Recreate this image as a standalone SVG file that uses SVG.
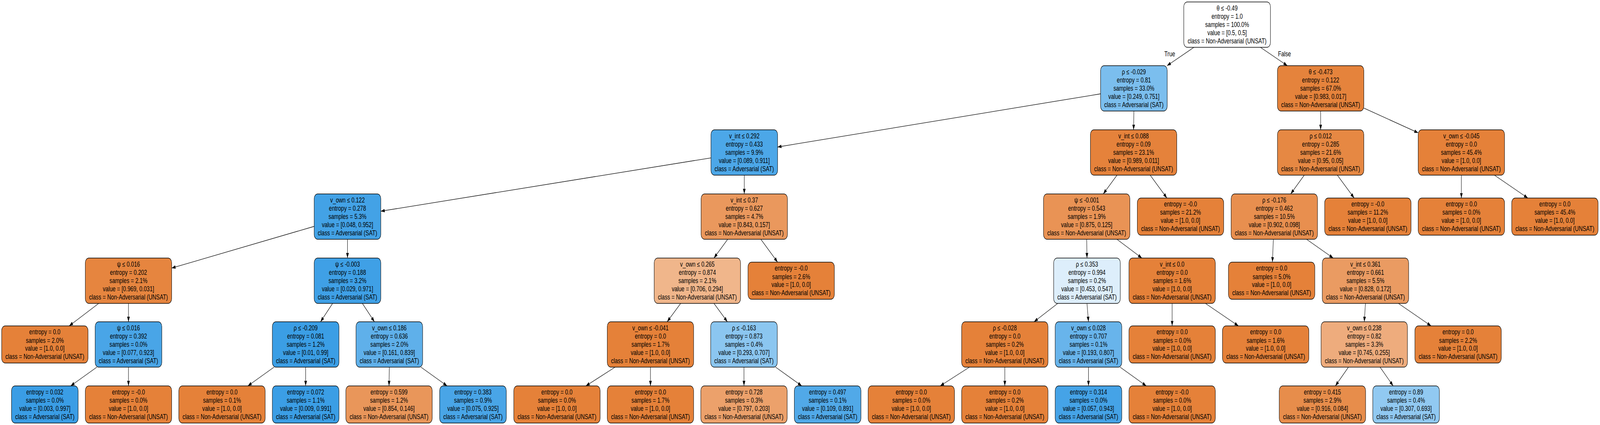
<svg xmlns="http://www.w3.org/2000/svg" width="5355" height="1087" viewBox="0 0 5355 1087" preserveAspectRatio="none" style="width:100%;height:100%">
<style>
.b{stroke:#000;stroke-width:1.3}
.t{font-family:"Liberation Sans",Arial,Helvetica,sans-serif;font-size:17.8px;text-anchor:middle;fill:#000}
#edges line{stroke:#000;stroke-width:1.3;marker-end:url(#ah)}
</style>
<defs>
<marker id="ah" markerUnits="userSpaceOnUse" markerWidth="13" markerHeight="9" refX="13" refY="4.5" orient="auto"><path d="M0,0 L13,4.5 L0,9 z" fill="#000"/></marker>
</defs>
<rect width="5355" height="1087" fill="#fff"/>
<g id="edges">
<line x1="3996" y1="121" x2="3906" y2="168"/>
<line x1="4218.4" y1="121" x2="4308.6" y2="168"/>
<line x1="3683.5" y1="240" x2="2602.5" y2="376"/>
<line x1="3795" y1="284" x2="3794" y2="332"/>
<line x1="4420" y1="284" x2="4420" y2="332"/>
<line x1="4564.5" y1="276.3" x2="4746.5" y2="339.7"/>
<line x1="2379.5" y1="403.8" x2="1274.5" y2="540.2"/>
<line x1="2491" y1="448" x2="2491" y2="496"/>
<line x1="3738.5" y1="448" x2="3692.5" y2="496"/>
<line x1="3849.5" y1="448" x2="3905.5" y2="506.5"/>
<line x1="4365.2" y1="448" x2="4319.8" y2="496"/>
<line x1="4475.9" y1="448" x2="4532.2" y2="506.5"/>
<line x1="4891" y1="448" x2="4891" y2="506.5"/>
<line x1="5001.7" y1="448" x2="5113.4" y2="506.5"/>
<line x1="1051.5" y1="579" x2="574.5" y2="685.7"/>
<line x1="1163" y1="612" x2="1163" y2="660"/>
<line x1="2435.5" y1="612" x2="2389.5" y2="660"/>
<line x1="2546.5" y1="612" x2="2602.5" y2="670.5"/>
<line x1="3637" y1="612" x2="3638" y2="660"/>
<line x1="3738.2" y1="612" x2="3821.8" y2="660"/>
<line x1="4261.8" y1="612" x2="4258.6" y2="670.5"/>
<line x1="4372.9" y1="612" x2="4462.1" y2="660"/>
<line x1="330.4" y1="776" x2="231.6" y2="833.5"/>
<line x1="430" y1="776" x2="430" y2="823"/>
<line x1="1113.2" y1="776" x2="1072.8" y2="823"/>
<line x1="1212.8" y1="776" x2="1253.2" y2="823"/>
<line x1="2278.1" y1="776" x2="2232.9" y2="823"/>
<line x1="2389.5" y1="776" x2="2434.5" y2="823"/>
<line x1="3540.2" y1="776" x2="3460.8" y2="823"/>
<line x1="3638" y1="776" x2="3643" y2="823"/>
<line x1="3923" y1="776" x2="3923" y2="833.5"/>
<line x1="4034.4" y1="776" x2="4144.8" y2="833.5"/>
<line x1="4570" y1="776" x2="4566" y2="823"/>
<line x1="4680.3" y1="776" x2="4789.7" y2="833.5"/>
<line x1="324.2" y1="939" x2="236.6" y2="987"/>
<line x1="430" y1="939" x2="430" y2="987"/>
<line x1="917.2" y1="939" x2="829.6" y2="987"/>
<line x1="1023" y1="939" x2="1023" y2="987"/>
<line x1="1303" y1="939" x2="1302" y2="987"/>
<line x1="1408.8" y1="939" x2="1496.4" y2="987"/>
<line x1="2058.7" y1="939" x2="1960.8" y2="987"/>
<line x1="2177" y1="939" x2="2177" y2="987"/>
<line x1="2490" y1="939" x2="2490" y2="987"/>
<line x1="2595.8" y1="939" x2="2683.4" y2="987"/>
<line x1="3244.7" y1="939" x2="3146.8" y2="987"/>
<line x1="3363" y1="939" x2="3363" y2="987"/>
<line x1="3643" y1="939" x2="3643" y2="987"/>
<line x1="3748.8" y1="939" x2="3836.4" y2="987"/>
<line x1="4513.1" y1="939" x2="4469.3" y2="987"/>
<line x1="4618.9" y1="939" x2="4662.7" y2="987"/>
<text class="t" x="3915" y="144">True</text>
<text class="t" x="4299" y="144">False</text>
</g>
<g id="n0"><rect class="b" x="3962" y="5" width="290" height="116" rx="12" fill="#ffffff"/><text class="t" x="4107" y="27"><tspan x="4107">θ ≤ -0.49</tspan><tspan x="4107" dy="21">entropy = 1.0</tspan><tspan x="4107" dy="21">samples = 100.0%</tspan><tspan x="4107" dy="21">value = [0.5, 0.5]</tspan><tspan x="4107" dy="21">class = Non-Adversarial (UNSAT)</tspan></text></g>
<g id="n1"><rect class="b" x="3683.5" y="168" width="223" height="116" rx="12" fill="#7bbeee"/><text class="t" x="3795" y="190"><tspan x="3795">ρ ≤ -0.029</tspan><tspan x="3795" dy="21">entropy = 0.81</tspan><tspan x="3795" dy="21">samples = 33.0%</tspan><tspan x="3795" dy="21">value = [0.249, 0.751]</tspan><tspan x="3795" dy="21">class = Adversarial (SAT)</tspan></text></g>
<g id="n2"><rect class="b" x="4275.5" y="168" width="289" height="116" rx="12" fill="#e5833c"/><text class="t" x="4420" y="190"><tspan x="4420">θ ≤ -0.473</tspan><tspan x="4420" dy="21">entropy = 0.122</tspan><tspan x="4420" dy="21">samples = 67.0%</tspan><tspan x="4420" dy="21">value = [0.983, 0.017]</tspan><tspan x="4420" dy="21">class = Non-Adversarial (UNSAT)</tspan></text></g>
<g id="n3"><rect class="b" x="2379.5" y="332" width="223" height="116" rx="12" fill="#4ca7e8"/><text class="t" x="2491" y="354"><tspan x="2491">v_int ≤ 0.292</tspan><tspan x="2491" dy="21">entropy = 0.433</tspan><tspan x="2491" dy="21">samples = 9.9%</tspan><tspan x="2491" dy="21">value = [0.089, 0.911]</tspan><tspan x="2491" dy="21">class = Adversarial (SAT)</tspan></text></g>
<g id="n4"><rect class="b" x="3649.5" y="332" width="289" height="116" rx="12" fill="#e5823b"/><text class="t" x="3794" y="354"><tspan x="3794">v_int ≤ 0.088</tspan><tspan x="3794" dy="21">entropy = 0.09</tspan><tspan x="3794" dy="21">samples = 23.1%</tspan><tspan x="3794" dy="21">value = [0.989, 0.011]</tspan><tspan x="3794" dy="21">class = Non-Adversarial (UNSAT)</tspan></text></g>
<g id="n5"><rect class="b" x="4275.5" y="332" width="289" height="116" rx="12" fill="#e68843"/><text class="t" x="4420" y="354"><tspan x="4420">ρ ≤ 0.012</tspan><tspan x="4420" dy="21">entropy = 0.285</tspan><tspan x="4420" dy="21">samples = 21.6%</tspan><tspan x="4420" dy="21">value = [0.95, 0.05]</tspan><tspan x="4420" dy="21">class = Non-Adversarial (UNSAT)</tspan></text></g>
<g id="n6"><rect class="b" x="4746.5" y="332" width="289" height="116" rx="12" fill="#e58139"/><text class="t" x="4891" y="354"><tspan x="4891">v_own ≤ -0.045</tspan><tspan x="4891" dy="21">entropy = 0.0</tspan><tspan x="4891" dy="21">samples = 45.4%</tspan><tspan x="4891" dy="21">value = [1.0, 0.0]</tspan><tspan x="4891" dy="21">class = Non-Adversarial (UNSAT)</tspan></text></g>
<g id="n7"><rect class="b" x="1051.5" y="496" width="223" height="116" rx="12" fill="#43a2e6"/><text class="t" x="1163" y="518"><tspan x="1163">v_own ≤ 0.122</tspan><tspan x="1163" dy="21">entropy = 0.278</tspan><tspan x="1163" dy="21">samples = 5.3%</tspan><tspan x="1163" dy="21">value = [0.048, 0.952]</tspan><tspan x="1163" dy="21">class = Adversarial (SAT)</tspan></text></g>
<g id="n8"><rect class="b" x="2346.5" y="496" width="289" height="116" rx="12" fill="#ea985d"/><text class="t" x="2491" y="518"><tspan x="2491">v_int ≤ 0.37</tspan><tspan x="2491" dy="21">entropy = 0.627</tspan><tspan x="2491" dy="21">samples = 4.7%</tspan><tspan x="2491" dy="21">value = [0.843, 0.157]</tspan><tspan x="2491" dy="21">class = Non-Adversarial (UNSAT)</tspan></text></g>
<g id="n9"><rect class="b" x="3492.5" y="496" width="289" height="116" rx="12" fill="#e99355"/><text class="t" x="3637" y="518"><tspan x="3637">ψ ≤ -0.001</tspan><tspan x="3637" dy="21">entropy = 0.543</tspan><tspan x="3637" dy="21">samples = 1.9%</tspan><tspan x="3637" dy="21">value = [0.875, 0.125]</tspan><tspan x="3637" dy="21">class = Non-Adversarial (UNSAT)</tspan></text></g>
<g id="n10"><rect class="b" x="3806.5" y="506.5" width="289" height="95" rx="12" fill="#e58139"/><text class="t" x="3951" y="528.5"><tspan x="3951">entropy = -0.0</tspan><tspan x="3951" dy="21">samples = 21.2%</tspan><tspan x="3951" dy="21">value = [1.0, 0.0]</tspan><tspan x="3951" dy="21">class = Non-Adversarial (UNSAT)</tspan></text></g>
<g id="n11"><rect class="b" x="4120.5" y="496" width="289" height="116" rx="12" fill="#e88f4f"/><text class="t" x="4265" y="518"><tspan x="4265">ρ ≤ -0.176</tspan><tspan x="4265" dy="21">entropy = 0.462</tspan><tspan x="4265" dy="21">samples = 10.5%</tspan><tspan x="4265" dy="21">value = [0.902, 0.098]</tspan><tspan x="4265" dy="21">class = Non-Adversarial (UNSAT)</tspan></text></g>
<g id="n12"><rect class="b" x="4433.5" y="506.5" width="289" height="95" rx="12" fill="#e58139"/><text class="t" x="4578" y="528.5"><tspan x="4578">entropy = -0.0</tspan><tspan x="4578" dy="21">samples = 11.2%</tspan><tspan x="4578" dy="21">value = [1.0, 0.0]</tspan><tspan x="4578" dy="21">class = Non-Adversarial (UNSAT)</tspan></text></g>
<g id="n13"><rect class="b" x="4746.5" y="506.5" width="289" height="95" rx="12" fill="#e58139"/><text class="t" x="4891" y="528.5"><tspan x="4891">entropy = 0.0</tspan><tspan x="4891" dy="21">samples = 0.0%</tspan><tspan x="4891" dy="21">value = [1.0, 0.0]</tspan><tspan x="4891" dy="21">class = Non-Adversarial (UNSAT)</tspan></text></g>
<g id="n14"><rect class="b" x="5059.5" y="506.5" width="289" height="95" rx="12" fill="#e58139"/><text class="t" x="5204" y="528.5"><tspan x="5204">entropy = 0.0</tspan><tspan x="5204" dy="21">samples = 45.4%</tspan><tspan x="5204" dy="21">value = [1.0, 0.0]</tspan><tspan x="5204" dy="21">class = Non-Adversarial (UNSAT)</tspan></text></g>
<g id="n15"><rect class="b" x="285.5" y="660" width="289" height="116" rx="12" fill="#e6853f"/><text class="t" x="430" y="682"><tspan x="430">ψ ≤ 0.016</tspan><tspan x="430" dy="21">entropy = 0.202</tspan><tspan x="430" dy="21">samples = 2.1%</tspan><tspan x="430" dy="21">value = [0.969, 0.031]</tspan><tspan x="430" dy="21">class = Non-Adversarial (UNSAT)</tspan></text></g>
<g id="n16"><rect class="b" x="1051.5" y="660" width="223" height="116" rx="12" fill="#3fa0e6"/><text class="t" x="1163" y="682"><tspan x="1163">ψ ≤ -0.003</tspan><tspan x="1163" dy="21">entropy = 0.188</tspan><tspan x="1163" dy="21">samples = 3.2%</tspan><tspan x="1163" dy="21">value = [0.029, 0.971]</tspan><tspan x="1163" dy="21">class = Adversarial (SAT)</tspan></text></g>
<g id="n17"><rect class="b" x="2189.5" y="660" width="289" height="116" rx="12" fill="#f0b68b"/><text class="t" x="2334" y="682"><tspan x="2334">v_own ≤ 0.265</tspan><tspan x="2334" dy="21">entropy = 0.874</tspan><tspan x="2334" dy="21">samples = 2.1%</tspan><tspan x="2334" dy="21">value = [0.706, 0.294]</tspan><tspan x="2334" dy="21">class = Non-Adversarial (UNSAT)</tspan></text></g>
<g id="n18"><rect class="b" x="2503.5" y="670.5" width="289" height="95" rx="12" fill="#e58139"/><text class="t" x="2648" y="692.5"><tspan x="2648">entropy = -0.0</tspan><tspan x="2648" dy="21">samples = 2.6%</tspan><tspan x="2648" dy="21">value = [1.0, 0.0]</tspan><tspan x="2648" dy="21">class = Non-Adversarial (UNSAT)</tspan></text></g>
<g id="n19"><rect class="b" x="3526.5" y="660" width="223" height="116" rx="12" fill="#ddeefb"/><text class="t" x="3638" y="682"><tspan x="3638">ρ ≤ 0.353</tspan><tspan x="3638" dy="21">entropy = 0.994</tspan><tspan x="3638" dy="21">samples = 0.2%</tspan><tspan x="3638" dy="21">value = [0.453, 0.547]</tspan><tspan x="3638" dy="21">class = Adversarial (SAT)</tspan></text></g>
<g id="n20"><rect class="b" x="3778.5" y="660" width="289" height="116" rx="12" fill="#e58139"/><text class="t" x="3923" y="682"><tspan x="3923">v_int ≤ 0.0</tspan><tspan x="3923" dy="21">entropy = 0.0</tspan><tspan x="3923" dy="21">samples = 1.6%</tspan><tspan x="3923" dy="21">value = [1.0, 0.0]</tspan><tspan x="3923" dy="21">class = Non-Adversarial (UNSAT)</tspan></text></g>
<g id="n21"><rect class="b" x="4111.5" y="670.5" width="289" height="95" rx="12" fill="#e58139"/><text class="t" x="4256" y="692.5"><tspan x="4256">entropy = 0.0</tspan><tspan x="4256" dy="21">samples = 5.0%</tspan><tspan x="4256" dy="21">value = [1.0, 0.0]</tspan><tspan x="4256" dy="21">class = Non-Adversarial (UNSAT)</tspan></text></g>
<g id="n22"><rect class="b" x="4425.5" y="660" width="289" height="116" rx="12" fill="#ea9b62"/><text class="t" x="4570" y="682"><tspan x="4570">v_int ≤ 0.361</tspan><tspan x="4570" dy="21">entropy = 0.661</tspan><tspan x="4570" dy="21">samples = 5.5%</tspan><tspan x="4570" dy="21">value = [0.828, 0.172]</tspan><tspan x="4570" dy="21">class = Non-Adversarial (UNSAT)</tspan></text></g>
<g id="n23"><rect class="b" x="5.5" y="833.5" width="289" height="95" rx="12" fill="#e58139"/><text class="t" x="150" y="855.5"><tspan x="150">entropy = 0.0</tspan><tspan x="150" dy="21">samples = 2.0%</tspan><tspan x="150" dy="21">value = [1.0, 0.0]</tspan><tspan x="150" dy="21">class = Non-Adversarial (UNSAT)</tspan></text></g>
<g id="n24"><rect class="b" x="318.5" y="823" width="223" height="116" rx="12" fill="#49a5e7"/><text class="t" x="430" y="845"><tspan x="430">ψ ≤ 0.016</tspan><tspan x="430" dy="21">entropy = 0.392</tspan><tspan x="430" dy="21">samples = 0.0%</tspan><tspan x="430" dy="21">value = [0.077, 0.923]</tspan><tspan x="430" dy="21">class = Adversarial (SAT)</tspan></text></g>
<g id="n25"><rect class="b" x="911.5" y="823" width="223" height="116" rx="12" fill="#3b9ee5"/><text class="t" x="1023" y="845"><tspan x="1023">ρ ≤ -0.209</tspan><tspan x="1023" dy="21">entropy = 0.081</tspan><tspan x="1023" dy="21">samples = 1.2%</tspan><tspan x="1023" dy="21">value = [0.01, 0.99]</tspan><tspan x="1023" dy="21">class = Adversarial (SAT)</tspan></text></g>
<g id="n26"><rect class="b" x="1191.5" y="823" width="223" height="116" rx="12" fill="#5fb0ea"/><text class="t" x="1303" y="845"><tspan x="1303">v_own ≤ 0.186</tspan><tspan x="1303" dy="21">entropy = 0.636</tspan><tspan x="1303" dy="21">samples = 2.0%</tspan><tspan x="1303" dy="21">value = [0.161, 0.839]</tspan><tspan x="1303" dy="21">class = Adversarial (SAT)</tspan></text></g>
<g id="n27"><rect class="b" x="2032.5" y="823" width="289" height="116" rx="12" fill="#e58139"/><text class="t" x="2177" y="845"><tspan x="2177">v_own ≤ -0.041</tspan><tspan x="2177" dy="21">entropy = 0.0</tspan><tspan x="2177" dy="21">samples = 1.7%</tspan><tspan x="2177" dy="21">value = [1.0, 0.0]</tspan><tspan x="2177" dy="21">class = Non-Adversarial (UNSAT)</tspan></text></g>
<g id="n28"><rect class="b" x="2378.5" y="823" width="223" height="116" rx="12" fill="#8bc6f0"/><text class="t" x="2490" y="845"><tspan x="2490">ρ ≤ -0.163</tspan><tspan x="2490" dy="21">entropy = 0.873</tspan><tspan x="2490" dy="21">samples = 0.4%</tspan><tspan x="2490" dy="21">value = [0.293, 0.707]</tspan><tspan x="2490" dy="21">class = Adversarial (SAT)</tspan></text></g>
<g id="n29"><rect class="b" x="3218.5" y="823" width="289" height="116" rx="12" fill="#e58139"/><text class="t" x="3363" y="845"><tspan x="3363">ρ ≤ -0.028</tspan><tspan x="3363" dy="21">entropy = 0.0</tspan><tspan x="3363" dy="21">samples = 0.2%</tspan><tspan x="3363" dy="21">value = [1.0, 0.0]</tspan><tspan x="3363" dy="21">class = Non-Adversarial (UNSAT)</tspan></text></g>
<g id="n30"><rect class="b" x="3531.5" y="823" width="223" height="116" rx="12" fill="#68b4eb"/><text class="t" x="3643" y="845"><tspan x="3643">v_own ≤ 0.028</tspan><tspan x="3643" dy="21">entropy = 0.707</tspan><tspan x="3643" dy="21">samples = 0.1%</tspan><tspan x="3643" dy="21">value = [0.193, 0.807]</tspan><tspan x="3643" dy="21">class = Adversarial (SAT)</tspan></text></g>
<g id="n31"><rect class="b" x="3778.5" y="833.5" width="289" height="95" rx="12" fill="#e58139"/><text class="t" x="3923" y="855.5"><tspan x="3923">entropy = 0.0</tspan><tspan x="3923" dy="21">samples = 0.0%</tspan><tspan x="3923" dy="21">value = [1.0, 0.0]</tspan><tspan x="3923" dy="21">class = Non-Adversarial (UNSAT)</tspan></text></g>
<g id="n32"><rect class="b" x="4091.5" y="833.5" width="289" height="95" rx="12" fill="#e58139"/><text class="t" x="4236" y="855.5"><tspan x="4236">entropy = 0.0</tspan><tspan x="4236" dy="21">samples = 1.6%</tspan><tspan x="4236" dy="21">value = [1.0, 0.0]</tspan><tspan x="4236" dy="21">class = Non-Adversarial (UNSAT)</tspan></text></g>
<g id="n33"><rect class="b" x="4421.5" y="823" width="289" height="116" rx="12" fill="#eeac7d"/><text class="t" x="4566" y="845"><tspan x="4566">v_own ≤ 0.238</tspan><tspan x="4566" dy="21">entropy = 0.82</tspan><tspan x="4566" dy="21">samples = 3.3%</tspan><tspan x="4566" dy="21">value = [0.745, 0.255]</tspan><tspan x="4566" dy="21">class = Non-Adversarial (UNSAT)</tspan></text></g>
<g id="n34"><rect class="b" x="4735.5" y="833.5" width="289" height="95" rx="12" fill="#e58139"/><text class="t" x="4880" y="855.5"><tspan x="4880">entropy = 0.0</tspan><tspan x="4880" dy="21">samples = 2.2%</tspan><tspan x="4880" dy="21">value = [1.0, 0.0]</tspan><tspan x="4880" dy="21">class = Non-Adversarial (UNSAT)</tspan></text></g>
<g id="n35"><rect class="b" x="38.5" y="987" width="223" height="95" rx="12" fill="#3a9de5"/><text class="t" x="150" y="1009"><tspan x="150">entropy = 0.032</tspan><tspan x="150" dy="21">samples = 0.0%</tspan><tspan x="150" dy="21">value = [0.003, 0.997]</tspan><tspan x="150" dy="21">class = Adversarial (SAT)</tspan></text></g>
<g id="n36"><rect class="b" x="285.5" y="987" width="289" height="95" rx="12" fill="#e58139"/><text class="t" x="430" y="1009"><tspan x="430">entropy = -0.0</tspan><tspan x="430" dy="21">samples = 0.0%</tspan><tspan x="430" dy="21">value = [1.0, 0.0]</tspan><tspan x="430" dy="21">class = Non-Adversarial (UNSAT)</tspan></text></g>
<g id="n37"><rect class="b" x="598.5" y="987" width="289" height="95" rx="12" fill="#e58139"/><text class="t" x="743" y="1009"><tspan x="743">entropy = 0.0</tspan><tspan x="743" dy="21">samples = 0.1%</tspan><tspan x="743" dy="21">value = [1.0, 0.0]</tspan><tspan x="743" dy="21">class = Non-Adversarial (UNSAT)</tspan></text></g>
<g id="n38"><rect class="b" x="911.5" y="987" width="223" height="95" rx="12" fill="#3b9ee5"/><text class="t" x="1023" y="1009"><tspan x="1023">entropy = 0.072</tspan><tspan x="1023" dy="21">samples = 1.1%</tspan><tspan x="1023" dy="21">value = [0.009, 0.991]</tspan><tspan x="1023" dy="21">class = Adversarial (SAT)</tspan></text></g>
<g id="n39"><rect class="b" x="1157.5" y="987" width="289" height="95" rx="12" fill="#e9965a"/><text class="t" x="1302" y="1009"><tspan x="1302">entropy = 0.599</tspan><tspan x="1302" dy="21">samples = 1.2%</tspan><tspan x="1302" dy="21">value = [0.854, 0.146]</tspan><tspan x="1302" dy="21">class = Non-Adversarial (UNSAT)</tspan></text></g>
<g id="n40"><rect class="b" x="1471.5" y="987" width="223" height="95" rx="12" fill="#49a5e7"/><text class="t" x="1583" y="1009"><tspan x="1583">entropy = 0.383</tspan><tspan x="1583" dy="21">samples = 0.9%</tspan><tspan x="1583" dy="21">value = [0.075, 0.925]</tspan><tspan x="1583" dy="21">class = Adversarial (SAT)</tspan></text></g>
<g id="n41"><rect class="b" x="1719.5" y="987" width="289" height="95" rx="12" fill="#e58139"/><text class="t" x="1864" y="1009"><tspan x="1864">entropy = 0.0</tspan><tspan x="1864" dy="21">samples = 0.0%</tspan><tspan x="1864" dy="21">value = [1.0, 0.0]</tspan><tspan x="1864" dy="21">class = Non-Adversarial (UNSAT)</tspan></text></g>
<g id="n42"><rect class="b" x="2032.5" y="987" width="289" height="95" rx="12" fill="#e58139"/><text class="t" x="2177" y="1009"><tspan x="2177">entropy = 0.0</tspan><tspan x="2177" dy="21">samples = 1.7%</tspan><tspan x="2177" dy="21">value = [1.0, 0.0]</tspan><tspan x="2177" dy="21">class = Non-Adversarial (UNSAT)</tspan></text></g>
<g id="n43"><rect class="b" x="2345.5" y="987" width="289" height="95" rx="12" fill="#eca16b"/><text class="t" x="2490" y="1009"><tspan x="2490">entropy = 0.728</tspan><tspan x="2490" dy="21">samples = 0.3%</tspan><tspan x="2490" dy="21">value = [0.797, 0.203]</tspan><tspan x="2490" dy="21">class = Non-Adversarial (UNSAT)</tspan></text></g>
<g id="n44"><rect class="b" x="2658.5" y="987" width="223" height="95" rx="12" fill="#51a9e8"/><text class="t" x="2770" y="1009"><tspan x="2770">entropy = 0.497</tspan><tspan x="2770" dy="21">samples = 0.1%</tspan><tspan x="2770" dy="21">value = [0.109, 0.891]</tspan><tspan x="2770" dy="21">class = Adversarial (SAT)</tspan></text></g>
<g id="n45"><rect class="b" x="2905.5" y="987" width="289" height="95" rx="12" fill="#e58139"/><text class="t" x="3050" y="1009"><tspan x="3050">entropy = 0.0</tspan><tspan x="3050" dy="21">samples = 0.0%</tspan><tspan x="3050" dy="21">value = [1.0, 0.0]</tspan><tspan x="3050" dy="21">class = Non-Adversarial (UNSAT)</tspan></text></g>
<g id="n46"><rect class="b" x="3218.5" y="987" width="289" height="95" rx="12" fill="#e58139"/><text class="t" x="3363" y="1009"><tspan x="3363">entropy = 0.0</tspan><tspan x="3363" dy="21">samples = 0.2%</tspan><tspan x="3363" dy="21">value = [1.0, 0.0]</tspan><tspan x="3363" dy="21">class = Non-Adversarial (UNSAT)</tspan></text></g>
<g id="n47"><rect class="b" x="3531.5" y="987" width="223" height="95" rx="12" fill="#45a3e7"/><text class="t" x="3643" y="1009"><tspan x="3643">entropy = 0.314</tspan><tspan x="3643" dy="21">samples = 0.0%</tspan><tspan x="3643" dy="21">value = [0.057, 0.943]</tspan><tspan x="3643" dy="21">class = Adversarial (SAT)</tspan></text></g>
<g id="n48"><rect class="b" x="3778.5" y="987" width="289" height="95" rx="12" fill="#e58139"/><text class="t" x="3923" y="1009"><tspan x="3923">entropy = -0.0</tspan><tspan x="3923" dy="21">samples = 0.0%</tspan><tspan x="3923" dy="21">value = [1.0, 0.0]</tspan><tspan x="3923" dy="21">class = Non-Adversarial (UNSAT)</tspan></text></g>
<g id="n49"><rect class="b" x="4281.5" y="987" width="289" height="95" rx="12" fill="#e78d4b"/><text class="t" x="4426" y="1009"><tspan x="4426">entropy = 0.415</tspan><tspan x="4426" dy="21">samples = 2.9%</tspan><tspan x="4426" dy="21">value = [0.916, 0.084]</tspan><tspan x="4426" dy="21">class = Non-Adversarial (UNSAT)</tspan></text></g>
<g id="n50"><rect class="b" x="4594.5" y="987" width="223" height="95" rx="12" fill="#91c9f1"/><text class="t" x="4706" y="1009"><tspan x="4706">entropy = 0.89</tspan><tspan x="4706" dy="21">samples = 0.4%</tspan><tspan x="4706" dy="21">value = [0.307, 0.693]</tspan><tspan x="4706" dy="21">class = Adversarial (SAT)</tspan></text></g>
</svg>
